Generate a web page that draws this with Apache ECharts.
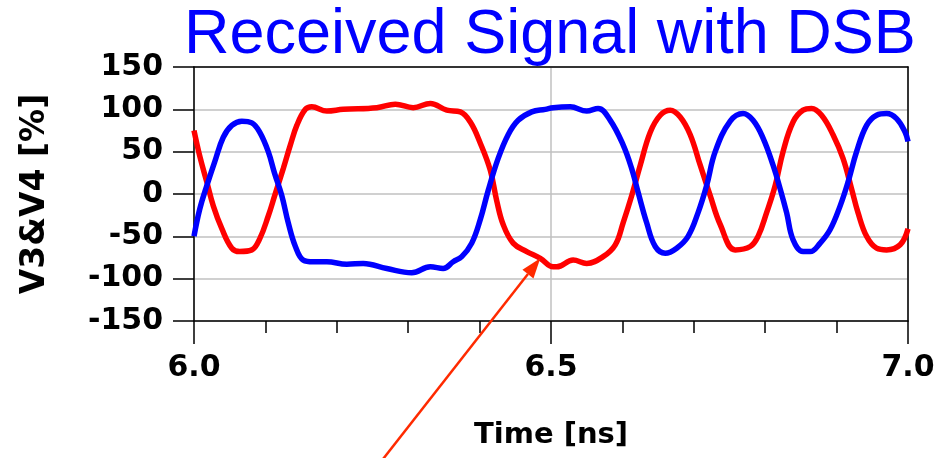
<!DOCTYPE html>
<html>
<head>
<meta charset="utf-8">
<script src="https://cdn.jsdelivr.net/npm/echarts@6/dist/echarts.min.js"></script>
<style>html,body{margin:0;padding:0;background:#fff;}#chart{width:940px;height:458px;}</style>
</head>
<body>
<div id="chart"></div>
<script>
// ---- data ----
const titleText = 'Received Signal with DSB';
const xName = 'Time [ns]';
const yName = 'V3&V4 [%]';
const xMin = 6.0, xMax = 7.0, xInterval = 0.5;
const yMin = -150, yMax = 150, yInterval = 50;

// V3 (red)
const redTime = [6.000, 6.008, 6.018, 6.027, 6.039, 6.053, 6.064, 6.081, 6.092, 6.104, 6.113, 6.125, 6.135, 6.144, 6.156, 6.165, 6.186, 6.209, 6.256, 6.282, 6.307, 6.331, 6.354, 6.373, 6.387, 6.401, 6.415, 6.424, 6.433, 6.447, 6.466, 6.485, 6.503, 6.508, 6.531, 6.550, 6.573, 6.590, 6.601, 6.613, 6.625, 6.639, 6.653, 6.667, 6.681, 6.695, 6.709, 6.723, 6.737, 6.758, 6.779, 6.790, 6.802, 6.814, 6.825, 6.839, 6.853, 6.865, 6.879, 6.895, 6.909, 6.921, 6.930, 6.942, 6.956, 6.970, 6.989, 7.000];
const redValues = [75, 45, 14, -14, -41, -64, -68, -66, -53, -26, -2, 30, 58, 81, 100, 103, 98, 100, 102, 106, 102, 107, 99, 97, 85, 60, 28, -8, -36, -58, -68, -76, -86, -86, -78, -82, -74, -60, -34, -2, 34, 73, 93, 99, 91, 70, 34, -2, -36, -66, -62, -50, -22, 10, 50, 85, 99, 101, 93, 70, 42, 6, -22, -50, -64, -66, -60, -41];

// V4 (blue)
const blueTime = [6.000, 6.008, 6.018, 6.029, 6.041, 6.053, 6.067, 6.081, 6.092, 6.104, 6.113, 6.123, 6.132, 6.142, 6.153, 6.167, 6.186, 6.214, 6.237, 6.270, 6.305, 6.331, 6.349, 6.363, 6.375, 6.389, 6.401, 6.412, 6.426, 6.440, 6.454, 6.473, 6.492, 6.503, 6.527, 6.550, 6.566, 6.583, 6.601, 6.613, 6.622, 6.634, 6.646, 6.660, 6.676, 6.692, 6.706, 6.718, 6.730, 6.751, 6.769, 6.783, 6.797, 6.811, 6.821, 6.830, 6.839, 6.853, 6.863, 6.877, 6.891, 6.905, 6.916, 6.928, 6.942, 6.956, 6.970, 6.984, 6.996, 7.000];
const blueValues = [-50, -18, 10, 38, 67, 81, 86, 84, 73, 50, 24, -2, -34, -62, -78, -80, -80, -83, -82, -88, -93, -86, -88, -80, -74, -58, -30, 4, 42, 70, 87, 97, 100, 102, 103, 98, 101, 87, 58, 30, 2, -34, -62, -70, -64, -50, -22, 10, 50, 86, 95, 87, 66, 34, 6, -22, -54, -68, -68, -58, -42, -14, 14, 50, 81, 93, 95, 89, 73, 62];

// annotation arrow (data coordinates: start below the plot, tip on the red trace)
const arrowFrom = [6.262, -316];
const arrowTo = [6.485, -76];

const redData = redTime.map((t, i) => [t, redValues[i]]);
const blueData = blueTime.map((t, i) => [t, blueValues[i]]);

const chart = echarts.init(document.getElementById('chart'), null, {renderer: 'canvas'});
const labelFont = 'DejaVu Sans';
const black = '#000';

const option = {
  animation: false,
  backgroundColor: '#fff',
  title: {
    text: titleText,
    left: 184, top: 4, padding: 0,
    textStyle: {fontFamily: 'Liberation Sans', fontSize: 63, fontWeight: 'normal', color: '#0000ff'}
  },
  grid: {left: 194, right: 32, top: 67, bottom: 137, containLabel: false, outerBoundsMode: 'none'},
  xAxis: [{
    type: 'value', min: xMin, max: xMax, interval: xInterval,
    name: xName, nameLocation: 'middle', nameGap: 100,
    nameTextStyle: {fontFamily: labelFont, fontSize: 29, fontWeight: 'bold', color: black},
    axisLine: {show: true, onZero: false, lineStyle: {color: black, width: 1.5}},
    axisTick: {show: true, inside: false, length: 23, lineStyle: {color: black, width: 1.5}},
    minorTick: {show: true, splitNumber: 5, length: 12, lineStyle: {color: black, width: 1.5}},
    axisLabel: {margin: 32, fontFamily: labelFont, fontSize: 30, fontWeight: 'bold', color: black,
      formatter: v => v.toFixed(1)},
    splitLine: {show: true, lineStyle: {color: '#c0c0c0', width: 1.5}},
    minorSplitLine: {show: false}
  }, {
    type: 'value', position: 'top', min: xMin, max: xMax,
    axisLine: {show: true, onZero: false, lineStyle: {color: black, width: 1.5}},
    axisTick: {show: false}, axisLabel: {show: false}, splitLine: {show: false}
  }],
  yAxis: [{
    type: 'value', min: yMin, max: yMax, interval: yInterval,
    name: yName, nameLocation: 'middle', nameGap: 142,
    nameTextStyle: {fontFamily: labelFont, fontSize: 33, fontWeight: 'bold', color: black},
    axisLine: {show: true, onZero: false, lineStyle: {color: black, width: 1.5}},
    axisTick: {show: true, inside: false, length: 21, lineStyle: {color: black, width: 1.5}},
    axisLabel: {margin: 31, fontFamily: labelFont, fontSize: 30, fontWeight: 'bold', color: black},
    splitLine: {show: true, lineStyle: {color: '#c0c0c0', width: 1.5}}
  }, {
    type: 'value', position: 'right', min: yMin, max: yMax,
    axisLine: {show: true, onZero: false, lineStyle: {color: black, width: 1.5}},
    axisTick: {show: false}, axisLabel: {show: false}, splitLine: {show: false}
  }],
  series: [{
    name: 'V3', type: 'line', data: redData, xAxisIndex: 0, yAxisIndex: 0,
    showSymbol: false, smooth: 0.4, clip: true,
    lineStyle: {color: '#ff0000', width: 5.5}, itemStyle: {color: '#ff0000'}, z: 2
  }, {
    name: 'V4', type: 'line', data: blueData, xAxisIndex: 0, yAxisIndex: 0,
    showSymbol: false, smooth: 0.4, clip: true,
    lineStyle: {color: '#0000ff', width: 5.5}, itemStyle: {color: '#0000ff'}, z: 3
  }]
};
chart.setOption(option);

// annotation arrow placed through the chart's own scale
const p1 = chart.convertToPixel({gridIndex: 0}, arrowFrom);
const p2 = chart.convertToPixel({gridIndex: 0}, arrowTo);
const dx = p2[0] - p1[0], dy = p2[1] - p1[1];
const len = Math.sqrt(dx * dx + dy * dy);
const ux = dx / len, uy = dy / len;
const headLen = 20, headHalf = 7;
const bx = p2[0] - ux * headLen, by = p2[1] - uy * headLen;
const arrowColor = '#ff2a00';
chart.setOption({
  graphic: [{
    type: 'line', z: 100,
    shape: {x1: p1[0], y1: p1[1], x2: bx, y2: by},
    style: {stroke: arrowColor, lineWidth: 2.5}
  }, {
    type: 'polygon', z: 100,
    shape: {points: [[p2[0], p2[1]], [bx - uy * headHalf, by + ux * headHalf], [bx + uy * headHalf, by - ux * headHalf]]},
    style: {fill: arrowColor}
  }]
});
</script>
</body>
</html>
